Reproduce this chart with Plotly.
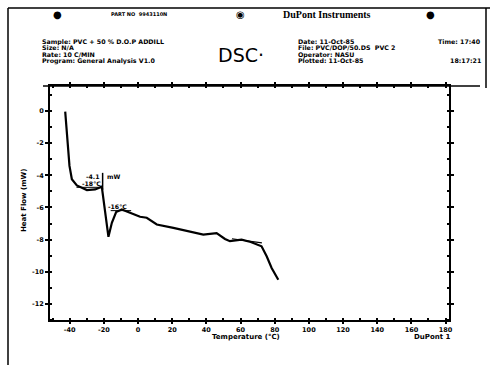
import plotly.graph_objects as go

# DSC curve: temperature (°C) and heat flow (mW)
temperature = [-42.6, -41.5, -40.1, -38.7, -35.8, -29.9, -25.1, -21.2, -20.2, -17.3,
               -15.3, -12.8, -9.5, -4.6, 1.2, 5.1, 11.0, 20.7, 30.4, 38.2,
               46.0, 50.9, 53.8, 60.6, 66.0, 72.3, 75.3, 78.2, 82.1]
heat_flow = [-0.04, -1.6, -3.42, -4.25, -4.63, -4.92, -4.88, -4.71, -5.5, -7.83,
             -6.96, -6.29, -6.13, -6.33, -6.58, -6.64, -7.06, -7.27, -7.48, -7.69,
             -7.6, -7.96, -8.1, -8.0, -8.15, -8.42, -9.04, -9.77, -10.5]

x_ticks = [-40, -20, 0, 20, 40, 60, 80, 100, 120, 140, 160, 180]
y_ticks = [0, -2, -4, -6, -8, -10, -12]

W, H = 490, 365
L, R, T, B = 50, 449, 86, 320


def px(x):
    return (x - L) / (R - L)


def py(y):
    return (B - y) / (B - T)


fig = go.Figure()
fig.add_trace(go.Scatter(x=temperature, y=heat_flow, mode="lines",
                         line=dict(color="black", width=2.2), hoverinfo="skip",
                         showlegend=False))

tickfont = dict(family="DejaVu Sans", size=6.5, color="black", weight="bold")
fig.update_xaxes(range=[-51.5, 182], tickvals=x_ticks,
                 ticktext=[str(v) for v in x_ticks],
                 showgrid=False, zeroline=False, showline=True, linewidth=2,
                 linecolor="black", mirror="allticks", ticks="outside", ticklen=2,
                 tickwidth=1.5, tickcolor="black", tickfont=tickfont,
                 minor=dict(dtick=10, ticks="inside", ticklen=2, tickcolor="black"))
fig.update_yaxes(range=[-13, 1.55], tickvals=y_ticks,
                 ticktext=[str(v) for v in y_ticks],
                 showgrid=False, zeroline=False, showline=True, linewidth=2,
                 linecolor="black", mirror="allticks", ticks="outside", ticklen=3,
                 tickwidth=1.5, tickcolor="black", tickfont=tickfont,
                 minor=dict(dtick=1, ticks="inside", ticklen=2, tickcolor="black"))

ann = []


def text(x, y, s, size=6.3, anchor="left", family="DejaVu Sans", weight="bold", angle=0):
    ann.append(dict(x=px(x), y=py(y), xref="paper", yref="paper", text=s,
                    showarrow=False, xanchor=anchor, yanchor="middle",
                    textangle=angle, borderpad=0,
                    font=dict(family=family, size=size, color="black", weight=weight)))


# header
text(57, 15, "●", size=10, anchor="center")
text(110, 14, "PART NO  9943110N", size=5, anchor="left")
text(240, 15, "◉", size=10, anchor="center")
text(282, 15, "DuPont Instruments", size=10, family="Liberation Serif")
text(430, 15, "●", size=10, anchor="center")

left_lines = ["Sample: PVC + 50 % D.O.P ADDILL", "Size: N/A", "Rate: 10 C/MIN",
              "Program: General Analysis V1.0"]
ys = [41.5, 48, 54.5, 61]
for s, y in zip(left_lines, ys):
    text(41, y, s)
text(217, 55, "DSC·", size=19, family="DejaVu Sans", weight="normal")
right_lines = ["Date: 11-Oct-85", "File: PVC/DOP/50.DS  PVC 2", "Operator: NASU",
               "Plotted: 11-Oct-85"]
for s, y in zip(right_lines, ys):
    text(297, y, s)
text(482, 41.5, "Time: 17:40", anchor="right")
text(482, 61, "18:17:21", anchor="right")

# axis titles
text(24, 201, "Heat Flow (mW)", size=7, anchor="center", angle=-90)
text(246, 337, "Temperature (°C)", size=7, anchor="center")
text(413, 337, "DuPont 1", size=7)

# curve annotations (data coords)
for x, y, s in [(-26.3, -4.06, "-4.1"), (-14.6, -4.06, "mW"),
                (-27.4, -4.5, "-18°C"), (-12.2, -5.94, "-16°C")]:
    ann.append(dict(x=x, y=y, xref="x", yref="y", text=s, showarrow=False,
                    borderpad=0,
                    font=dict(family="DejaVu Sans", size=6.2, color="black",
                              weight="bold")))

shapes = []


def line(x0, y0, x1, y1, w=1.5):
    shapes.append(dict(type="line", xref="paper", yref="paper", x0=px(x0), y0=py(y0),
                       x1=px(x1), y1=py(y1), line=dict(color="black", width=w)))


line(8, 8, 490, 8)
line(8, 8, 8, 365)
line(486, 8, 486, 88)
line(43, 86, 480, 86)

# tangent / marker lines on curve
shapes.append(dict(type="line", xref="x", yref="y", x0=-20.7, y0=-3.85, x1=-20.7,
                   y1=-4.9, line=dict(color="black", width=1.5)))
shapes.append(dict(type="line", xref="x", yref="y", x0=-36, y0=-4.75, x1=-21, y1=-4.75,
                   line=dict(color="black", width=1)))
shapes.append(dict(type="line", xref="x", yref="y", x0=-16, y0=-6.2, x1=-4, y1=-6.2,
                   line=dict(color="black", width=1)))
shapes.append(dict(type="line", xref="x", yref="y", x0=55, y0=-7.95, x1=72.5, y1=-8.2,
                   line=dict(color="black", width=1.2)))

fig.update_layout(width=W, height=H, margin=dict(l=L, r=W - R, t=T, b=H - B),
                  paper_bgcolor="white", plot_bgcolor="white",
                  annotations=ann, shapes=shapes, showlegend=False)

fig.write_html("out.html", config={"displayModeBar": False},
               post_script="document.body.style.margin='0';document.body.style.overflow='hidden';")
